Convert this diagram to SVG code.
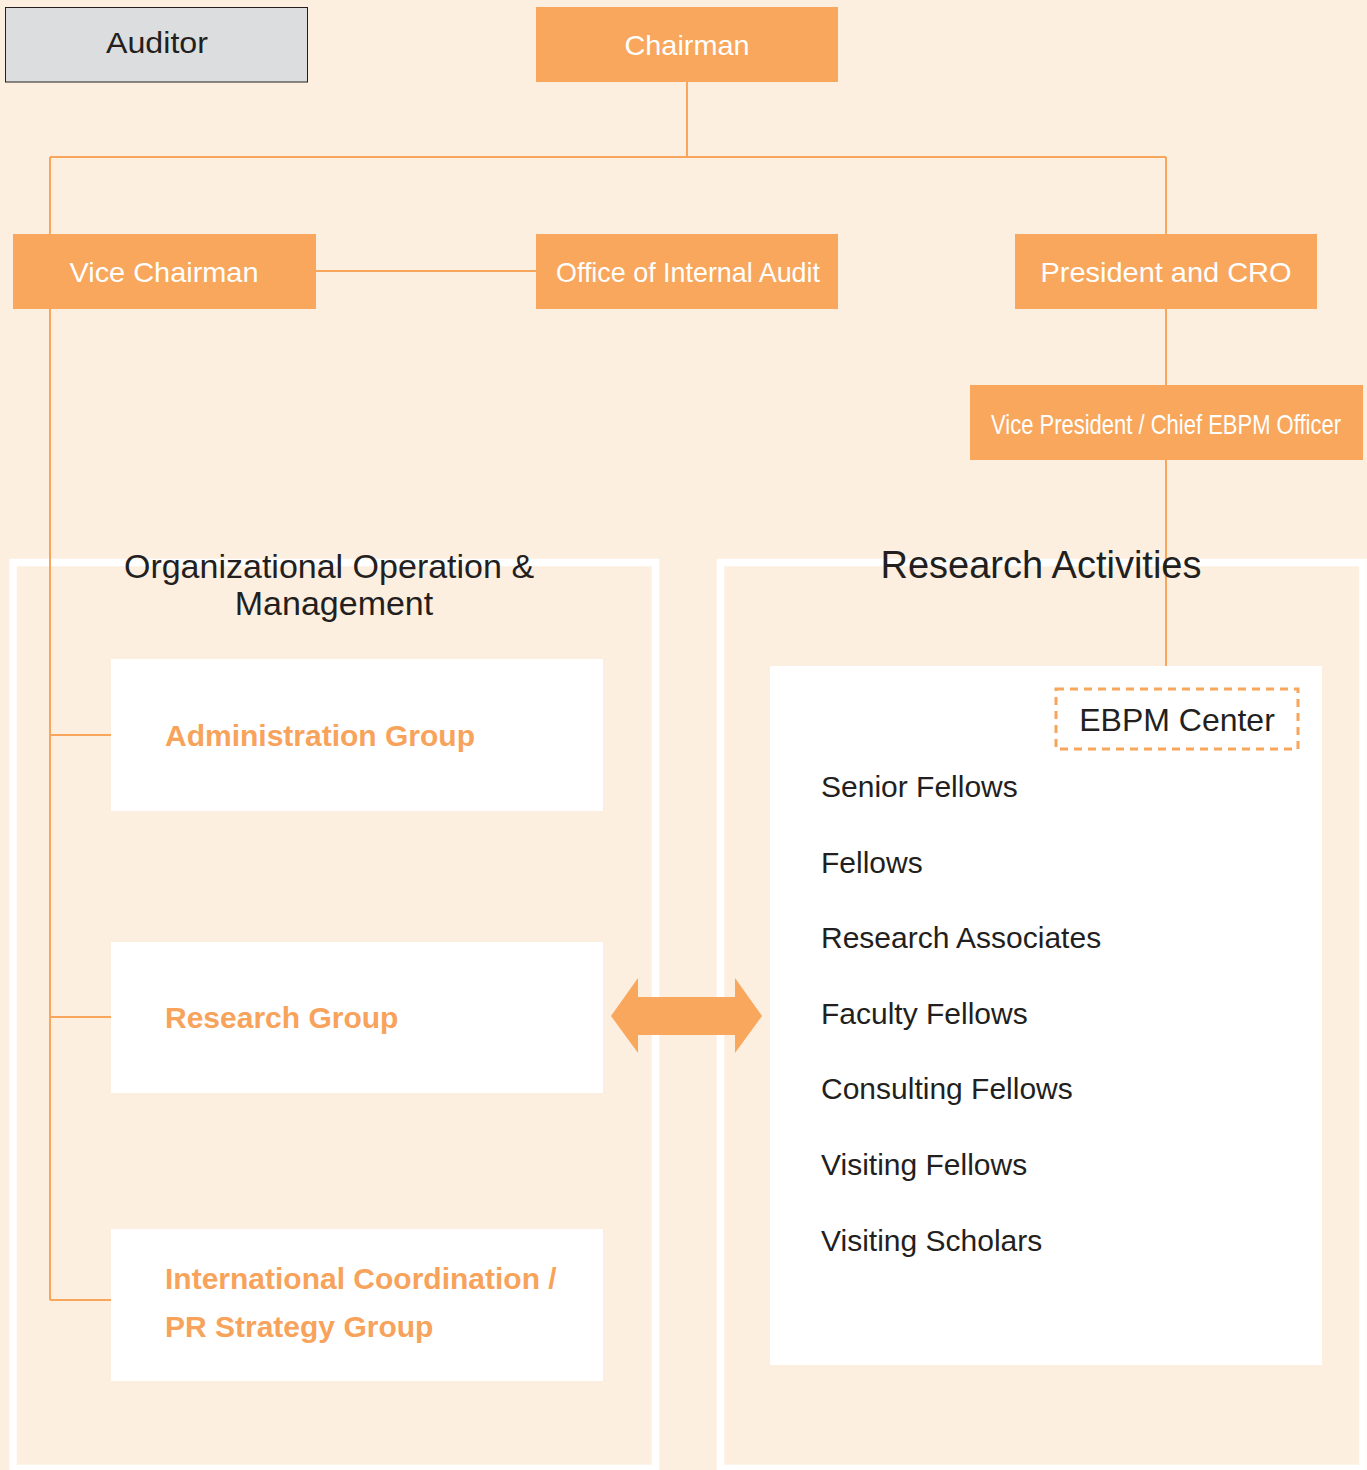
<svg xmlns="http://www.w3.org/2000/svg" width="1367" height="1470" viewBox="0 0 1367 1470">
<defs>
<style>
.bg{fill:#FDEFE0}
.ob{fill:#F8A75D}
.wt{fill:#FFFFFF;font-family:"Liberation Sans",Arial,sans-serif;font-size:28px;text-anchor:middle}
.dk{fill:#231F20;font-family:"Liberation Sans",Arial,sans-serif}
.grp{fill:#F8A35B;font-family:"Liberation Sans",Arial,sans-serif;font-weight:bold;font-size:30px}
.frame{fill:none;stroke:#FFFFFF;stroke-width:7.5}
.ln{fill:none;stroke:#F8A65C;stroke-width:2}
.wb{fill:#FFFFFF}
.lst{fill:#231F20;font-family:"Liberation Sans",Arial,sans-serif;font-size:30px}
</style>
</defs>
<rect class="bg" x="0" y="0" width="1367" height="1470"/>
<g id="frames">
<rect class="frame" x="13" y="562.5" width="642.5" height="906"/>
<rect class="frame" x="720.5" y="562.5" width="642.5" height="906"/>
</g>
<g id="connectors">
<line class="ln" x1="687" y1="82" x2="687" y2="157"/>
<line class="ln" x1="50" y1="157" x2="1166" y2="157"/>
<line class="ln" x1="1166" y1="157" x2="1166" y2="234"/>
<line class="ln" x1="1166" y1="309" x2="1166" y2="385"/>
<line class="ln" x1="1166" y1="460" x2="1166" y2="666"/>
<line class="ln" x1="316" y1="271" x2="536" y2="271"/>
<line class="ln" x1="50" y1="157" x2="50" y2="1300"/>
<line class="ln" x1="50" y1="735" x2="111" y2="735"/>
<line class="ln" x1="50" y1="1017" x2="111" y2="1017"/>
<line class="ln" x1="50" y1="1300" x2="111" y2="1300"/>
<polygon class="ob" points="611,1016 638,978 638,997 735,997 735,978 762,1016 735,1053 735,1035 638,1035 638,1053"/>
</g>
<g id="auditor">
<rect x="5.5" y="7.5" width="302" height="74.5" fill="#DCDDDF" stroke="#231F20" stroke-width="1"/>
<text class="dk" x="157" y="53" font-size="30" text-anchor="middle" textLength="102" lengthAdjust="spacingAndGlyphs">Auditor</text>
</g>
<g id="chairman">
<rect class="ob" x="536" y="7" width="302" height="75"/>
<text class="wt" x="687" y="55" textLength="125" lengthAdjust="spacingAndGlyphs">Chairman</text>
</g>
<g id="vice-chairman">
<rect class="ob" x="13" y="234" width="303" height="75"/>
<text class="wt" x="164" y="282" textLength="189" lengthAdjust="spacingAndGlyphs">Vice Chairman</text>
</g>
<g id="internal-audit">
<rect class="ob" x="536" y="234" width="302" height="75"/>
<text class="wt" x="688" y="282" textLength="264" lengthAdjust="spacingAndGlyphs">Office of Internal Audit</text>
</g>
<g id="president">
<rect class="ob" x="1015" y="234" width="302" height="75"/>
<text class="wt" x="1166" y="282" textLength="251" lengthAdjust="spacingAndGlyphs">President and CRO</text>
</g>
<g id="vice-president">
<rect class="ob" x="970" y="385" width="393" height="75"/>
<text class="wt" x="0" y="0" transform="translate(1166,434) scale(0.7,1)" font-size="27" textLength="500" lengthAdjust="spacingAndGlyphs">Vice President / Chief EBPM Officer</text>
</g>
<g id="org-operation">
<text class="dk" x="329" y="578" font-size="34" text-anchor="middle">Organizational Operation &amp;</text>
<text class="dk" x="334" y="615" font-size="34" text-anchor="middle">Management</text>
</g>
<g id="administration-group">
<rect class="wb" x="111" y="659" width="492" height="152"/>
<text class="grp" x="165" y="746">Administration Group</text>
</g>
<g id="research-group">
<rect class="wb" x="111" y="942" width="492" height="151"/>
<text class="grp" x="165" y="1028">Research Group</text>
</g>
<g id="international-group">
<rect class="wb" x="111" y="1229" width="492" height="152"/>
<text class="grp" x="165" y="1289">International Coordination /</text>
<text class="grp" x="165" y="1337">PR Strategy Group</text>
</g>
<g id="research-activities">
<text class="dk" x="1041" y="578" font-size="38" text-anchor="middle">Research Activities</text>
<rect class="wb" x="770" y="666" width="552" height="699"/>
<text class="lst" x="821" y="797">Senior Fellows</text>
<text class="lst" x="821" y="873">Fellows</text>
<text class="lst" x="821" y="948">Research Associates</text>
<text class="lst" x="821" y="1024">Faculty Fellows</text>
<text class="lst" x="821" y="1099">Consulting Fellows</text>
<text class="lst" x="821" y="1175">Visiting Fellows</text>
<text class="lst" x="821" y="1251">Visiting Scholars</text>
</g>
<g id="ebpm-center">
<rect x="1056" y="689" width="242" height="60" fill="none" stroke="#F8A65C" stroke-width="3" stroke-dasharray="8,6"/>
<text class="dk" x="1177" y="731" font-size="32" text-anchor="middle">EBPM Center</text>
</g>
</svg>
